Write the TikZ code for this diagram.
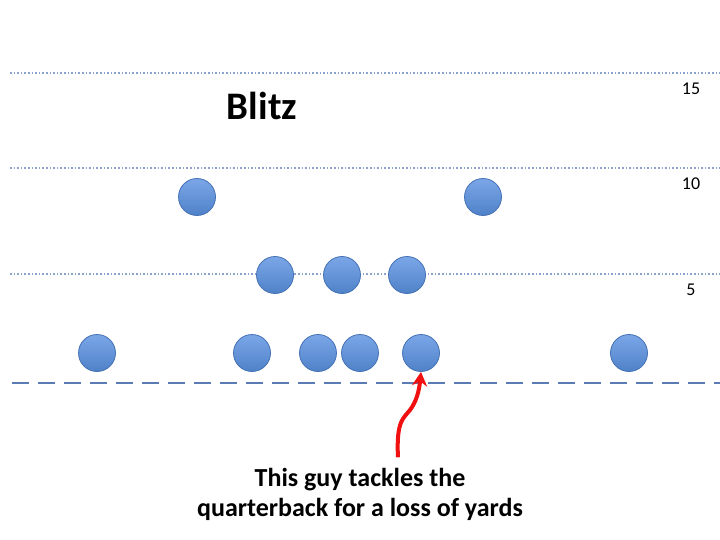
\documentclass[tikz,border=0pt]{standalone}
\usepackage{fontspec}
\setmainfont{Carlito}
\usetikzlibrary{positioning, arrows.meta}
\definecolor{azul}{HTML}{4F81C8}
\definecolor{azulclaro}{HTML}{7BA7E8}
\definecolor{borda}{HTML}{4572B4}
\definecolor{linha}{HTML}{5A7BB3}
\definecolor{ponto}{HTML}{8AA2CC}
\definecolor{verm}{HTML}{F01010}

\begin{document}
\begin{tikzpicture}[x=1pt, y=-1pt,
        jogador/.style={circle, minimum size=37pt, inner sep=0pt, draw=borda, line width=0.8pt,
                        top color=azulclaro, bottom color=azul},
        jarda/.style={ponto, line width=1.6pt, dotted},
        marca/.style={font=\fontsize{18}{20}\selectfont, anchor=north}]
    \useasboundingbox (0,0) rectangle (720,540);
    % yard lines
    \foreach \y/\n in {73/15, 168/10, 274/5} {
        \draw[jarda] (10,\y) -- (720,\y);
        \node[marca] at (691,\y+6) {\n};
    }
    % line of scrimmage
    \draw[linha, line width=2.6pt, dash pattern=on 17pt off 9pt] (12,383) -- (720,383);
    \node[font=\fontsize{39}{44}\selectfont\bfseries] (titulo) at (262,106) {Blitz};
    % players
    \foreach \x/\y in {197/197, 483/197, 275/275, 342/275, 407/275,
                       97/353, 252/353, 318/353, 360/353, 629/353}
        \node[jogador] at (\x,\y) {};
    \node[jogador] (qb) at (421,353) {};
    \node[font=\fontsize{26}{30}\selectfont\bfseries, align=center] (nota) at (360,494)
        {This guy tackles the\\quarterback for a loss of yards};
    \draw[verm, line width=4pt, -{Stealth[length=14pt, width=15pt]}]
        ([xshift=38pt, yshift=7pt]nota.north) .. controls (396,420) and (404,418) .. (410,410)
        .. controls (416,402) and (419,392) .. (qb.south);
\end{tikzpicture}
\end{document}
